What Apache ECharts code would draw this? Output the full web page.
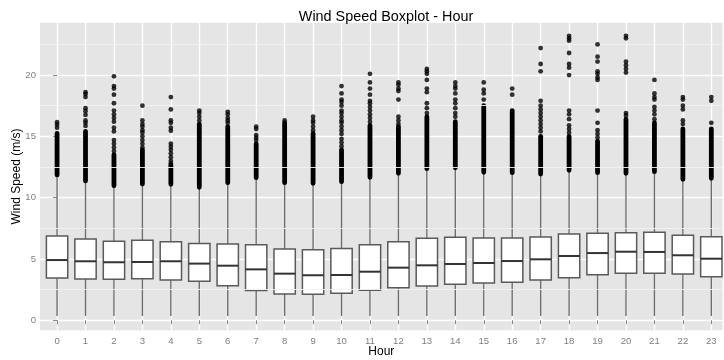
<!DOCTYPE html>
<html>
<head>
<meta charset="utf-8">
<script src="https://cdn.jsdelivr.net/npm/echarts@6/dist/echarts.min.js"></script>
<style>html,body{margin:0;padding:0;background:#fff}#c{width:724px;height:360px}</style>
</head>
<body>
<div id="c"></div>
<script>
// ---- data ----
const hours = [0,1,2,3,4,5,6,7,8,9,10,11,12,13,14,15,16,17,18,19,20,21,22,23];
const yTicks = [0,5,10,15,20];
const yMinor = [2.5,7.5,12.5,17.5,22.5];
const whiskerLo = [0.35,0.35,0.35,0.35,0.35,0.35,0.35,0.35,0.35,0.35,0.35,0.35,0.35,0.35,0.35,0.35,0.35,0.35,0.35,0.35,0.35,0.35,0.35,0.35];
const q1 =     [3.45,3.37,3.34,3.39,3.28,3.18,2.82,2.42,2.14,2.12,2.20,2.44,2.66,2.80,2.93,3.04,3.10,3.28,3.47,3.72,3.83,3.83,3.77,3.55];
const median = [4.91,4.81,4.73,4.75,4.81,4.62,4.45,4.15,3.80,3.67,3.69,3.96,4.29,4.48,4.59,4.67,4.83,4.97,5.24,5.48,5.59,5.57,5.30,5.02];
const q3 =     [6.87,6.63,6.44,6.52,6.41,6.27,6.22,6.16,5.81,5.75,5.86,6.16,6.41,6.68,6.76,6.71,6.71,6.79,7.03,7.09,7.14,7.17,6.93,6.81];
const whiskerHi = [11.85,11.36,10.98,11.11,11.09,10.84,11.22,11.63,11.22,11.17,11.30,11.66,11.98,12.36,12.44,12.07,12.04,11.93,12.23,12.04,11.98,12.12,11.50,11.58];
// upper end of the continuous run of outliers above each whisker
const denseHi = [15.25,15.4,13.5,13.9,12.66,16.0,15.8,14.4,16.1,15.25,13.9,15.9,15.8,16.6,16.2,17.5,17.1,15.0,15.0,14.6,16.4,16.1,15.6,15.6];
// separate outliers above the continuous run
const outliers = [
  [16.15,15.95,15.7],
  [18.6,18.45,18.2,17.3,17.05,16.75,16.3,16.1,15.85],
  [19.9,19.1,18.9,18.4,17.7,17.1,16.8,16.5,16.2,15.7,15.4,14.7,14.4,14.1,13.8],
  [17.5,16.3,16.0,15.8,15.5,15.3,15.0,14.7,14.4,14.1],
  [18.2,17.2,16.3,16.1,15.7,15.45,14.4,14.15,13.9,13.6,13.3,13.0,12.8],
  [17.1,16.9,16.6,16.3],
  [17.0,16.8,16.5,16.3,16.1],
  [15.8,15.6,15.1,14.9,14.7],
  [16.3],
  [16.6,16.3,16.1,15.8,15.5],
  [19.1,18.5,18.0,17.8,17.5,17.1,16.9,16.6,16.3,16.1,15.8,15.5,15.2,14.8,14.5,14.2],
  [20.1,19.4,18.9,18.4,17.9,17.7,17.4,17.1,16.8,16.5,16.2],
  [19.4,19.2,18.9,18.7,18.0,16.6,16.3,16.0],
  [20.5,20.3,20.1,19.6,18.9,18.6,17.7,17.3,16.9],
  [19.4,19.1,18.9,18.5,18.0,17.7,17.3,16.9,16.6],
  [19.4,18.8,18.5,18.0],
  [18.9,18.4],
  [22.2,20.9,20.3,17.9,17.5,17.2,16.9,16.6,16.3,16.0,15.7,15.4],
  [23.2,23.0,22.8,21.8,20.9,20.6,20.0,17.1,16.8,16.4,15.9,15.6,15.3],
  [22.5,21.5,21.1,20.3,20.1,19.8,19.6,17.1,16.1,15.5,15.2,14.9],
  [23.2,23.0,21.1,20.8,20.5,20.2,16.9,16.7],
  [19.6,18.5,18.2,18.0,17.4,17.1,16.8,16.4],
  [18.2,18.0,17.5,17.2,16.3,16.0],
  [18.2,17.9,16.1]
];

// ---- build library data ----
const boxData = hours.map((h,i)=>[h, whiskerLo[i], q1[i], median[i], q3[i], whiskerHi[i]]);
const denseData = hours.map((h,i)=>[h, whiskerHi[i], denseHi[i]]);
const outlierData = [];
hours.forEach((h,i)=>outliers[i].forEach(v=>outlierData.push([h,v])));

const FONT = '"Liberation Sans", Arial, Helvetica, sans-serif';
const chart = echarts.init(document.getElementById('c'), null, {renderer:'canvas'});
chart.setOption({
  animation:false,
  backgroundColor:'#ffffff',
  title:{
    text:'Wind Speed Boxplot - Hour',
    left:381, top:5, textAlign:'center',
    textStyle:{fontFamily:FONT, fontSize:14.4, fontWeight:'normal', color:'#000'}
  },
  grid:{left:40, right:1.3, top:22.7, bottom:29.7, show:true, backgroundColor:'#E5E5E5', borderWidth:0,
        containLabel:false, outerBoundsMode:'none'},
  xAxis:{
    type:'value', min:-0.6, max:23.4,
    name:'Hour', nameLocation:'middle', nameGap:15, nameMoveOverlap:false,
    nameTextStyle:{fontFamily:FONT, fontSize:12, color:'#000'},
    axisLine:{show:false},
    axisTick:{show:true, length:4, lineStyle:{color:'#8a8a8a', width:1}, customValues:hours},
    axisLabel:{fontFamily:FONT, fontSize:9.6, color:'#7F7F7F', margin:6, customValues:hours},
    splitLine:{show:true, lineStyle:{color:'#ffffff', width:1.4}}
  },
  yAxis:{
    type:'value', min:-0.82, max:24.27,
    name:'Wind Speed (m/s)', nameLocation:'middle', nameGap:17, nameMoveOverlap:false,
    nameTextStyle:{fontFamily:FONT, fontSize:12, color:'#000'},
    axisLine:{show:false},
    axisTick:{show:true, length:4, lineStyle:{color:'#8a8a8a', width:1}, customValues:yTicks},
    axisLabel:{fontFamily:FONT, fontSize:9.6, color:'#7F7F7F', margin:4, customValues:yTicks},
    splitLine:{show:true, lineStyle:{color:'#ffffff', width:1.4}}
  },
  series:[
    {
      type:'line', data:[], z:1, silent:true,
      markLine:{silent:true, symbol:'none', label:{show:false}, animation:false,
        lineStyle:{color:'#F2F2F2', width:0.9, type:'solid'},
        data:yMinor.map(v=>({yAxis:v}))}
    },
    {
      type:'custom', z:3, data:boxData, silent:true,
      renderItem:function(params, api){
        const x = api.value(0);
        const pLo = api.coord([x, api.value(1)]);
        const pQ1 = api.coord([x, api.value(2)]);
        const pMed = api.coord([x, api.value(3)]);
        const pQ3 = api.coord([x, api.value(4)]);
        const pHi = api.coord([x, api.value(5)]);
        const hw = api.size([0.75, 0])[0] / 2;
        const wStyle = {stroke:'#6e6e6e', lineWidth:1.4};
        return {type:'group', children:[
          {type:'line', shape:{x1:pLo[0], y1:pLo[1], x2:pQ1[0], y2:pQ1[1]}, style:wStyle},
          {type:'line', shape:{x1:pQ3[0], y1:pQ3[1], x2:pHi[0], y2:pHi[1]}, style:wStyle},
          {type:'rect', shape:{x:pQ1[0]-hw, y:pQ3[1], width:2*hw, height:pQ1[1]-pQ3[1]},
            style:{fill:'#ffffff', stroke:'#5a5a5a', lineWidth:1.5}},
          {type:'line', shape:{x1:pMed[0]-hw, y1:pMed[1], x2:pMed[0]+hw, y2:pMed[1]},
            style:{stroke:'#333333', lineWidth:2}}
        ]};
      }
    },
    {
      type:'custom', z:4, data:denseData, silent:true,
      renderItem:function(params, api){
        const x = api.value(0);
        const pA = api.coord([x, api.value(1)]);
        const pB = api.coord([x, api.value(2)]);
        const w = 4.8;
        return {type:'rect', shape:{x:pA[0]-w/2, y:pB[1]-w/2, width:w, height:pA[1]-pB[1]+w, r:w/2},
          style:{fill:'#000000'}};
      }
    },
    {
      type:'scatter', z:5, data:outlierData, symbol:'circle', symbolSize:4.8, silent:true,
      itemStyle:{color:'#000000'}
    }
  ]
});
</script>
</body>
</html>
